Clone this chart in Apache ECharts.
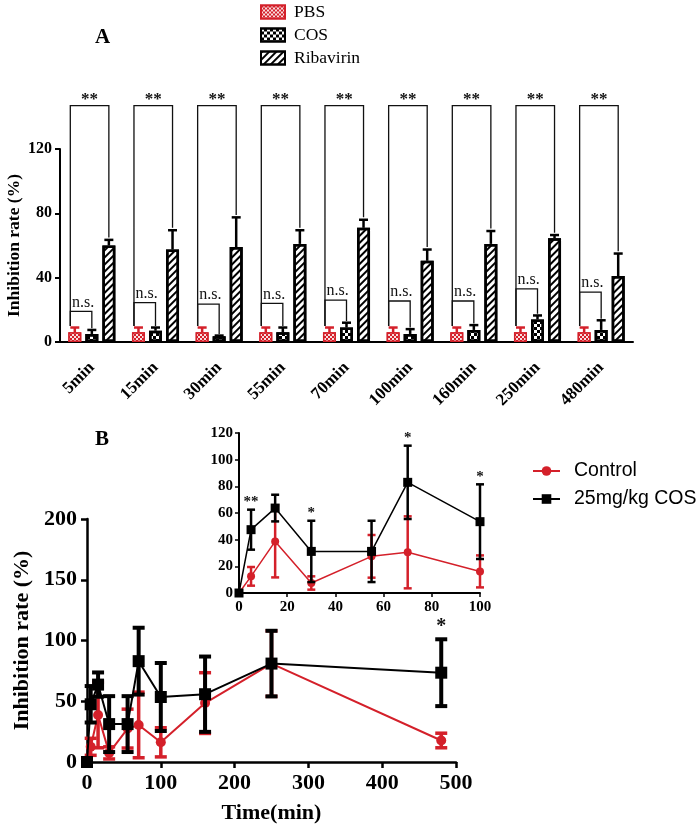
<!DOCTYPE html>
<html><head><meta charset="utf-8">
<script src="https://cdn.jsdelivr.net/npm/echarts@6/dist/echarts.min.js"></script>
<style>html,body{margin:0;padding:0;background:#fff}#c{width:699px;height:831px}</style>
</head><body><div id="c"></div>
<script>
// ---------- Panel A data ----------
const timeCats = ['5min','15min','30min','55min','70min','100min','160min','250min','480min'];
const pbsMean = [6,6,6,6,6,6,6,6,6];
const pbsErr  = [3,3,3,3,3,3,3,3,3];
const cosMean = [5,7,3.5,6,9,5,7.5,14,7.5];
const cosErr  = [2.5,2,0.5,3,3,3,3,2.5,6];
const ribMean = [60,57.5,59,61,71,50.5,61,64.5,41];
const ribErr  = [3.5,12,18.5,8.5,5,7,8,2,14];
const nsLevel = [19,24.5,23.5,24,26,25.5,25.5,33,31];
const starLevelA = 147;

// ---------- Panel B data ----------
const timeB    = [0,5,15,30,55,70,100,160,250,480];
const ctrlMean = [0,12.5,38.7,7.5,27.5,30.5,16.2,48.5,81,17.7];
const ctrlErr  = [0,7,27,5,16,27,12,25,27,6];
const cosBMean = [0,47.5,63.7,31.2,31.2,83,53.5,55.8,81,73.5];
const cosBErr  = [0,15,10,23,23,27.5,28,31,27,27.5];
const starsBX   = [5,30,70,100,480];
const starsBText= ['**','*','*','*','*'];

const SERIF = '"Liberation Serif","Times New Roman",serif';
const SANS = '"Liberation Sans",Arial,sans-serif';
const RED = '#d4202a';
const BAR_W = 13, BAR_GAP = '31%';

const chart = echarts.init(document.getElementById('c'));

function barCenters(api) {
  let lay = null;
  try { lay = api.barLayout({count:3, barWidth:BAR_W, barGap:BAR_GAP}); } catch(e) {}
  if (lay && lay.length === 3) return lay.map(l => l.offsetCenter);
  const s = BAR_W * 1.31;
  return [-s, 0, s];
}

function errA(params, api) {
  const i = api.value(0);
  const cx = api.coord([i, 0])[0];
  const off = barCenters(api);
  const sets = [[pbsMean[i], pbsErr[i], RED], [cosMean[i], cosErr[i], '#000'], [ribMean[i], ribErr[i], '#000']];
  const children = [];
  sets.forEach((s, k) => {
    const x = cx + off[k];
    const y0 = api.coord([i, s[0]])[1];
    const y1 = api.coord([i, s[0] + s[1]])[1];
    children.push({type:'line', shape:{x1:x, y1:y0, x2:x, y2:y1}, style:{stroke:s[2], lineWidth:2.5}});
    children.push({type:'line', shape:{x1:x-4.5, y1:y1, x2:x+4.5, y2:y1}, style:{stroke:s[2], lineWidth:2.5}});
  });
  return {type:'group', children};
}

function bracketsA(params, api) {
  const i = api.value(0);
  const cx = api.coord([i, 0])[0];
  const off = barCenters(api);
  const xL = cx + off[0] - 4.5, xC = cx + off[1], xR = cx + off[2];
  const yP = api.coord([i, pbsMean[i] + pbsErr[i] + 1])[1];
  const yC = api.coord([i, cosMean[i] + cosErr[i] + 1])[1];
  const yR = api.coord([i, ribMean[i] + ribErr[i] + 1.5])[1];
  const yTop = api.coord([i, starLevelA])[1];
  const yNs = api.coord([i, nsLevel[i]])[1];
  return {type:'group', children:[
    {type:'polyline', shape:{points:[[xL,yP],[xL,yTop],[xR,yTop],[xR,yR]]}, style:{stroke:'#111', lineWidth:1.3, fill:'none'}},
    {type:'polyline', shape:{points:[[xL,yP],[xL,yNs],[xC,yNs],[xC,yC]]}, style:{stroke:'#111', lineWidth:1.3, fill:'none'}},
    {type:'text', x:(xL+xR)/2, y:yTop+3, style:{text:'**', fill:'#111', font:'bold 17px ' + SERIF, align:'center', verticalAlign:'bottom'}},
    {type:'text', x:(xL+xC)/2 + 2, y:yNs-1, style:{text:'n.s.', fill:'#111', font:'16px ' + SERIF, align:'center', verticalAlign:'bottom'}}
  ]};
}

function errB(color, lw, cap) {
  return function(params, api) {
    const x = api.value(0);
    if (api.value(1) === api.value(2)) return null;
    const p1 = api.coord([x, api.value(1)]);
    const p2 = api.coord([x, api.value(2)]);
    return {type:'group', children:[
      {type:'line', shape:{x1:p1[0], y1:p1[1], x2:p2[0], y2:p2[1]}, style:{stroke:color, lineWidth:lw}},
      {type:'line', shape:{x1:p1[0]-cap/2, y1:p1[1], x2:p1[0]+cap/2, y2:p1[1]}, style:{stroke:color, lineWidth:lw}},
      {type:'line', shape:{x1:p2[0]-cap/2, y1:p2[1], x2:p2[0]+cap/2, y2:p2[1]}, style:{stroke:color, lineWidth:lw}}
    ]};
  };
}

function starB(fontSize, gap) {
  return function(params, api) {
    const p = api.coord([api.value(0), api.value(1)]);
    return {type:'text', x:p[0], y:p[1] - gap, style:{text:starsBText[api.value(2)], fill:'#111', font:'bold ' + fontSize + 'px ' + SERIF, align:'center', verticalAlign:'bottom'}};
  };
}

function errData(means, errs, maxX) {
  return timeB.map((t, i) => [t, means[i] - errs[i], means[i] + errs[i]]).filter(d => d[0] <= maxX);
}
function lineData(means, maxX) {
  return timeB.map((t, i) => [t, means[i]]).filter(d => d[0] <= maxX);
}
function starData(minX, maxX) {
  const out = [];
  starsBX.forEach((x, k) => {
    const i = timeB.indexOf(x);
    if (x >= minX && x <= maxX) out.push([x, cosBMean[i] + cosBErr[i], k]);
  });
  return out;
}

const axisBold = (size) => ({fontFamily:SERIF, fontWeight:'bold', fontSize:size, color:'#000'});

const option = {
  backgroundColor:'#fff',
  animation:false,
  title:[
    {text:'A', left:90, top:22, textStyle:{fontFamily:SERIF, fontWeight:'bold', fontSize:21, color:'#000'}},
    {text:'B', left:90, top:424, textStyle:{fontFamily:SERIF, fontWeight:'bold', fontSize:21, color:'#000'}}
  ],
  legend:[
    {data:['PBS','COS','Ribavirin'], orient:'vertical', left:255, top:-2, itemWidth:24, itemHeight:13, itemGap:5,
     textStyle:{fontFamily:SERIF, fontSize:17.5, color:'#000', padding:[0,0,0,4]}, icon:'rect', selectedMode:false},
    {data:['Control','25mg/kg COS'], orient:'vertical', left:527, top:456, itemWidth:27, itemHeight:12, itemGap:8,
     textStyle:{fontFamily:SANS, fontSize:19.5, color:'#000', padding:[0,0,0,9]}, selectedMode:false}
  ],
  grid:[
    {left:60, top:149, width:573, height:193, outerBoundsMode:'none'},
    {left:87, top:519, width:369, height:243, outerBoundsMode:'none'},
    {left:239, top:433, width:241, height:160, outerBoundsMode:'none'}
  ],
  xAxis:[
    {type:'category', gridIndex:0, data:timeCats,
     axisLine:{lineStyle:{color:'#000', width:2}},
     axisTick:{alignWithLabel:true, length:5, lineStyle:{color:'#000', width:2}},
     axisLabel:Object.assign({rotate:45, margin:23}, axisBold(17))},
    {type:'value', gridIndex:1, min:0, max:500, interval:100, splitLine:{show:false},
     name:'Time(min)', nameLocation:'middle', nameGap:40, nameTextStyle:axisBold(22),
     axisLine:{show:true, lineStyle:{color:'#000', width:2.5}},
     axisTick:{show:true, length:6, lineStyle:{color:'#000', width:2.5}},
     axisLabel:Object.assign({margin:10}, axisBold(22))},
    {type:'value', gridIndex:2, min:0, max:100, interval:20, splitLine:{show:false},
     axisLine:{show:true, lineStyle:{color:'#000', width:2}},
     axisTick:{show:true, length:4, lineStyle:{color:'#000', width:1.5}},
     axisLabel:Object.assign({margin:7}, axisBold(15))}
  ],
  yAxis:[
    {type:'value', gridIndex:0, min:0, max:120, interval:40, splitLine:{show:false},
     name:'Inhibition rate (%)', nameLocation:'middle', nameGap:37, nameMoveOverlap:false, nameTextStyle:axisBold(17.5),
     axisLine:{show:true, lineStyle:{color:'#000', width:2}},
     axisTick:{show:true, length:5, lineStyle:{color:'#000', width:2}},
     axisLabel:Object.assign({margin:8}, axisBold(16))},
    {type:'value', gridIndex:1, min:0, max:200, interval:50, splitLine:{show:false},
     name:'Inhibition rate (%)', nameLocation:'middle', nameGap:52, nameTextStyle:axisBold(22),
     axisLine:{show:true, lineStyle:{color:'#000', width:2.5}},
     axisTick:{show:true, length:6, lineStyle:{color:'#000', width:2.5}},
     axisLabel:Object.assign({margin:10}, axisBold(22))},
    {type:'value', gridIndex:2, min:0, max:120, interval:20, splitLine:{show:false},
     axisLine:{show:true, lineStyle:{color:'#000', width:2}},
     axisTick:{show:true, length:4, lineStyle:{color:'#000', width:1.5}},
     axisLabel:Object.assign({margin:6}, axisBold(15))}
  ],
  series:[
    {name:'PBS', type:'bar', xAxisIndex:0, yAxisIndex:0, data:pbsMean, barWidth:BAR_W, barGap:BAR_GAP,
     itemStyle:{color:RED, borderColor:RED, borderWidth:1.5,
       decal:{symbol:'rect', symbolSize:1, dashArrayX:[[2,2],[0,2,2,0]], dashArrayY:[2,0], color:'rgba(255,255,255,0.85)'}}},
    {name:'COS', type:'bar', xAxisIndex:0, yAxisIndex:0, data:cosMean, barWidth:BAR_W, barGap:BAR_GAP,
     itemStyle:{color:'#fff', borderColor:'#000', borderWidth:2.5,
       decal:{symbol:'rect', symbolSize:1, dashArrayX:[[3,3],[0,3,3,0]], dashArrayY:[3,0], color:'#000'}}},
    {name:'Ribavirin', type:'bar', xAxisIndex:0, yAxisIndex:0, data:ribMean, barWidth:BAR_W, barGap:BAR_GAP,
     itemStyle:{color:'#fff', borderColor:'#000', borderWidth:2.5,
       decal:{symbol:'rect', symbolSize:1, dashArrayX:[1,0], dashArrayY:[1.2,2.2], rotation:-Math.PI/4, color:'#000'}}},
    {type:'custom', xAxisIndex:0, yAxisIndex:0, renderItem:errA, z:3,
     data:timeCats.map((c,i) => [i, ribMean[i]]), encode:{x:0, y:1}},
    {type:'custom', xAxisIndex:0, yAxisIndex:0, renderItem:bracketsA, z:3, clip:false,
     data:timeCats.map((c,i) => [i, nsLevel[i]]), encode:{x:0, y:1}},

    // main B
    {type:'custom', xAxisIndex:1, yAxisIndex:1, renderItem:errB(RED, 3.5, 12), z:2,
     data:errData(ctrlMean, ctrlErr, 1000), encode:{x:0, y:[1,2]}},
    {name:'Control', type:'line', xAxisIndex:1, yAxisIndex:1, data:lineData(ctrlMean, 1000), symbol:'circle', symbolSize:10,
     itemStyle:{color:RED}, lineStyle:{color:RED, width:2}, z:3},
    {type:'custom', xAxisIndex:1, yAxisIndex:1, renderItem:errB('#000', 4, 12), z:4,
     data:errData(cosBMean, cosBErr, 1000), encode:{x:0, y:[1,2]}},
    {name:'25mg/kg COS', type:'line', xAxisIndex:1, yAxisIndex:1, data:lineData(cosBMean, 1000), symbol:'rect', symbolSize:12,
     itemStyle:{color:'#000'}, lineStyle:{color:'#000', width:2}, z:5},
    {type:'custom', xAxisIndex:1, yAxisIndex:1, renderItem:starB(20, 2), z:5, clip:false,
     data:starData(101, 1000), encode:{x:0, y:1}},

    // inset
    {type:'custom', xAxisIndex:2, yAxisIndex:2, renderItem:errB(RED, 2.5, 8), z:2,
     data:errData(ctrlMean, ctrlErr, 100), encode:{x:0, y:[1,2]}},
    {name:'Control', type:'line', xAxisIndex:2, yAxisIndex:2, data:lineData(ctrlMean, 100), symbol:'circle', symbolSize:8,
     itemStyle:{color:RED}, lineStyle:{color:RED, width:1.5}, z:3},
    {type:'custom', xAxisIndex:2, yAxisIndex:2, renderItem:errB('#000', 2.5, 8), z:4,
     data:errData(cosBMean, cosBErr, 100), encode:{x:0, y:[1,2]}},
    {name:'25mg/kg COS', type:'line', xAxisIndex:2, yAxisIndex:2, data:lineData(cosBMean, 100), symbol:'rect', symbolSize:9,
     itemStyle:{color:'#000'}, lineStyle:{color:'#000', width:1.5}, z:5},
    {type:'custom', xAxisIndex:2, yAxisIndex:2, renderItem:starB(15, 0), z:5, clip:false,
     data:starData(0, 100), encode:{x:0, y:1}}
  ]
};
chart.setOption(option);
</script>
</body></html>
